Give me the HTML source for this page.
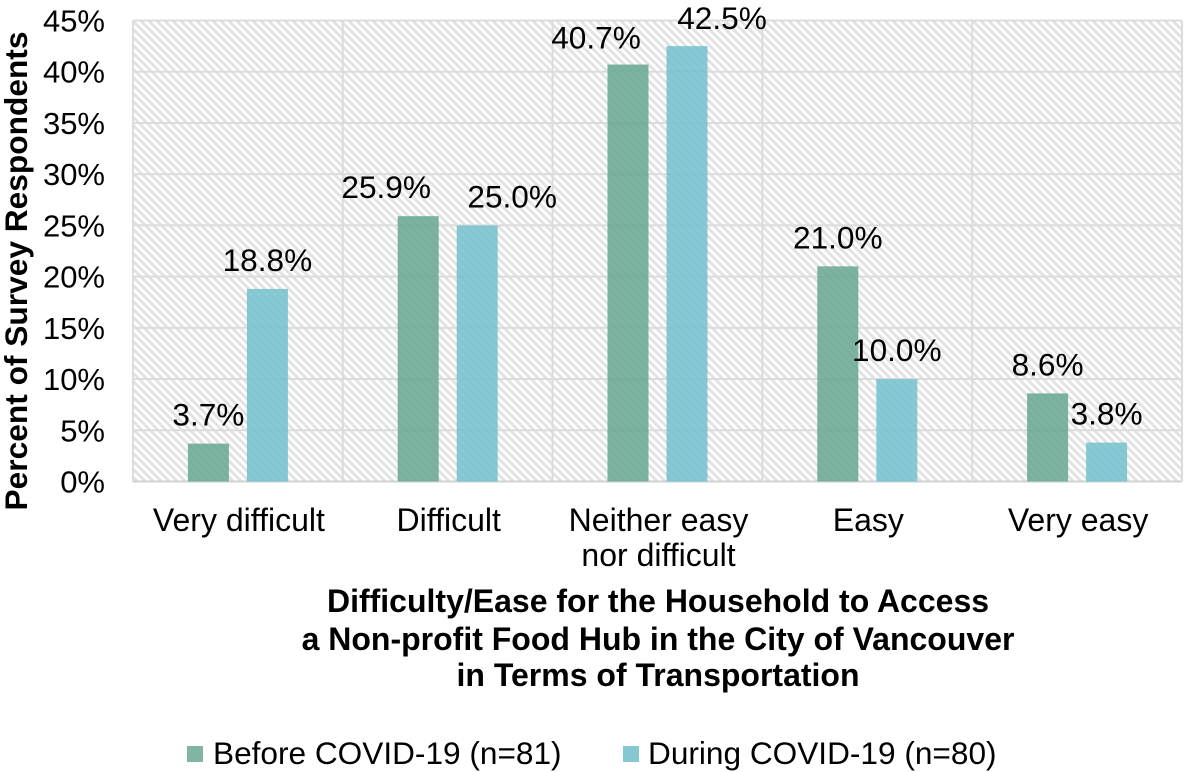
<!DOCTYPE html>
<html>
<head>
<meta charset="utf-8">
<style>
html,body{margin:0;padding:0;background:#fff;width:1184px;height:772px;overflow:hidden}
svg{display:block}
text{font-family:"Liberation Sans",Arial,sans-serif;fill:#000;font-size:32px}
.b{font-weight:bold}
.leg{font-size:31.6px}
.tick{font-size:31px}
.dl{font-size:31.6px}
</style>
</head>
<body>
<svg id="chart" width="1184" height="772" viewBox="0 0 1184 772" xmlns="http://www.w3.org/2000/svg">
<defs>
<pattern id="hatch" width="8" height="8" patternUnits="userSpaceOnUse">
<rect width="8" height="8" fill="#fff"/>
<path d="M-2,-2 L10,10 M-2,6 L2,10 M6,-2 L10,2" stroke="#e2e2e2" stroke-width="2.8" fill="none"/>
</pattern>
</defs>
<rect x="133" y="20.5" width="1049" height="461" fill="url(#hatch)"/>
<g id="grid"></g>
<g id="bars"></g>
<g id="labels"></g>
<g id="yticks"></g>
<g id="xticks"></g>
<text class="b" transform="translate(27,271) rotate(-90)" text-anchor="middle" style="font-size:31.7px">Percent of Survey Respondents</text>
<g class="x-title">
<text class="b" x="658" y="612" text-anchor="middle">Difficulty/Ease for the Household to Access</text>
<text class="b" x="658" y="650" text-anchor="middle">a Non-profit Food Hub in the City of Vancouver</text>
<text class="b" x="658" y="686" text-anchor="middle">in Terms of Transportation</text>
</g>
<g>
<rect x="187" y="746" width="16" height="16" fill="#7fb5a2"/>
<text class="leg" x="213" y="764">Before COVID-19 (n=81)</text>
<rect x="623" y="746" width="16" height="16" fill="#86c8d2"/>
<text class="leg" x="648" y="764">During COVID-19 (n=80)</text>
</g>
</svg>
<script>
var categories = [["Very difficult"],["Difficult"],["Neither easy","nor difficult"],["Easy"],["Very easy"]];
var beforeValues = [3.7,25.9,40.7,21.0,8.6];
var duringValues = [18.8,25.0,42.5,10.0,3.8];
var yTickValues = [0,5,10,15,20,25,30,35,40,45];

var NS = 'http://www.w3.org/2000/svg';
var plotLeft = 133, plotRight = 1182, plotBottom = 481.5, plotTop = 20.5, yMax = 45;
function yScale(v){ return plotBottom - (v / yMax) * (plotBottom - plotTop); }
function xCenter(i){ return plotLeft + (i + 0.5) * (plotRight - plotLeft) / categories.length; }
function make(tag, attrs, parent){
  var el = document.createElementNS(NS, tag);
  for (var k in attrs) el.setAttribute(k, attrs[k]);
  parent.appendChild(el);
  return el;
}
var grid = document.getElementById('grid');
var bars = document.getElementById('bars');
var labels = document.getElementById('labels');
var yticks = document.getElementById('yticks');
var xticks = document.getElementById('xticks');

yTickValues.forEach(function(t){
  var y = yScale(t);
  var l = make('line', {x1: plotLeft, x2: plotRight, y1: y, y2: y, stroke: t === 0 ? '#d0d0d0' : '#dcdcdc', 'stroke-width': 2}, grid);
  
  
  var tx = make('text', {x: 105, y: y + 11, 'text-anchor': 'end', 'class': 'tick'}, yticks);
  tx.textContent = t + '%';
  
  
});
for (var c = 0; c <= categories.length; c++){
  var gx = plotLeft + c * (plotRight - plotLeft) / categories.length;
  var vl = make('line', {x1: gx, x2: gx, y1: plotTop, y2: plotBottom, stroke: '#dcdcdc', 'stroke-width': 2}, grid);
  
  
}
function drawSeries(values, color, offset, labelShift, seriesName){
  values.forEach(function(v, i){
    var cx = xCenter(i) + offset;
    var top = yScale(v);
    var r = make('rect', {x: cx - 20.5, y: top, width: 41, height: plotBottom - top, fill: color}, bars);
    
    
    var shifted = (i === 1 || i === 2);
    var lift = i === 2 ? (seriesName === 'before' ? 16 : 17) : 18;
    var t = make('text', {x: cx + (shifted ? labelShift : 0), y: top - lift, 'text-anchor': 'middle', 'class': 'dl'}, labels);
    t.textContent = v.toFixed(1) + '%';
    
    
  });
}
drawSeries(beforeValues, 'rgba(104,168,146,0.86)', -29.5, -32, 'before');
drawSeries(duringValues, 'rgba(112,192,204,0.84)', 29.5, 35, 'during');
categories.forEach(function(lines, i){
  lines.forEach(function(line, j){
    var t = make('text', {x: xCenter(i) + 1, y: 531 + j * 35, 'text-anchor': 'middle'}, xticks);
    t.textContent = line;
    
    
  });
});
</script>
</body>
</html>
